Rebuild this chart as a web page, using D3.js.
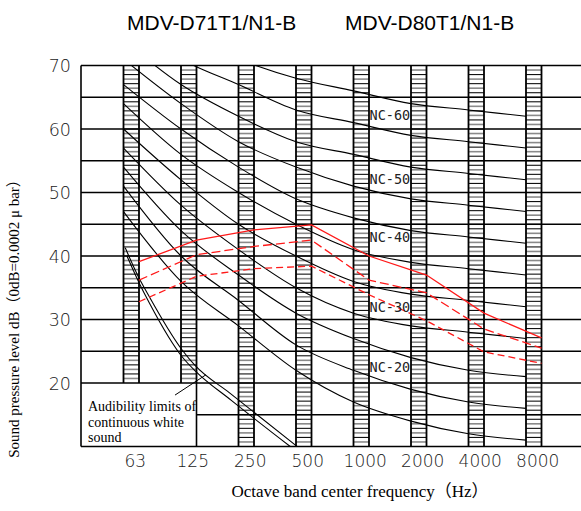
<!DOCTYPE html>
<html><head><meta charset="utf-8">
<script src="https://cdn.jsdelivr.net/npm/d3@7"></script>
<style>body{margin:0;background:#fff}svg{display:block}</style>
</head><body><svg id="c" width="581" height="511"></svg>
<script>
// ---------- data ----------
const bands = ["63","125","250","500","1000","2000","4000","8000"];
const yTicks = [20,30,40,50,60,70];
const gridLevels = [20,25,30,35,40,45,50,55,60,65,70];
const titles = ["MDV-D71T1/N1-B","MDV-D80T1/N1-B"];
const nc15 = [47,36,29,22,17,14,12,11];
const nc20 = [51,40,33,26,22,19,17,16];
const nc25 = [54,44,37,31,27,24,22,21];
const nc30 = [57,48,41,35,31,29,28,27];
const nc35 = [60,52,45,40,36,34,33,32];
const nc40 = [64,56,50,45,41,39,38,37];
const nc45 = [67,60,54,49,46,44,43,42];
const nc50 = [71,64,58,54,51,49,48,47];
const nc55 = [74,67,62,58,56,54,53,52];
const nc60 = [77,71,67,63,61,59,58,57];
const nc65 = [80,75,71,68,66,64,63,62];
const ncCurves = [nc15,nc20,nc25,nc30,nc35,nc40,nc45,nc50,nc55,nc60,nc65];
const ncLabels = ["NC-60","NC-50","NC-40","NC-30","NC-20"];
const ncLabelLevels = [61.4,51.3,42.2,31.2,21.7];
const redSolid = [39.1,42.5,44.1,44.9,40.0,37.0,31.0,27.1];
const redDashA = [36.2,40.2,41.5,42.5,36.2,34.2,28.5,25.5];
const redDashB = [32.8,36.8,38.0,38.4,33.9,29.8,24.9,23.1];
const audPosA = [0.03,0.25,0.43,1.02,1.24,1.85,3.02];
const audDbA  = [41.3,36.9,33.9,25.2,22.8,18.4,10];
const audPosB = [0.06,0.27,0.45,1.04,1.26,1.87,2.9];
const audDbB  = [40.0,35.8,32.6,23.9,21.8,17.3,10];
const audText = ["Audibility limits of","continuous white","sound"];
const yTitle = "Sound pressure level dB（0dB=0.0002 μ bar）";
const xTitle = "Octave band center frequency（Hz）";

// ---------- scales ----------
const svg = d3.select("#c");
const left = 81, right = 581, barW = 15.5;
const x = d3.scaleLinear().domain([0,7]).range([123.5,526]);
const y = d3.scaleLinear().domain([10,70]).range([446.5,65.5]);

svg.append("rect").attr("width",581).attr("height",511).attr("fill","#fff");
svg.append("defs").append("clipPath").attr("id","plot")
  .append("rect").attr("x",left).attr("y",y(70)).attr("width",right-left).attr("height",y(10)-y(70));

// ---------- bars (hatched) ----------
const gBars = svg.append("g");
bands.forEach((b,i)=>{
  const bottom = i<2 ? y(20) : y(10);
  const step = (y(65)-y(70))/7;
  let k=0;
  for(let yy=y(70)+step; yy<bottom-0.5; yy+=step, k++){
    gBars.append("line").attr("x1",x(i)).attr("x2",x(i)+barW).attr("y1",yy).attr("y2",yy)
      .attr("stroke", k%2===0 ? "#8a8a8a" : "#111").attr("stroke-width", k%2===0 ? 1.6 : 1.1);
  }
  [x(i), x(i)+barW].forEach(xx=>{
    gBars.append("line").attr("x1",xx).attr("x2",xx).attr("y1",y(70)).attr("y2",bottom)
      .attr("stroke","#000").attr("stroke-width",1.8);
  });
});

// ---------- grid ----------
const gGrid = svg.append("g").attr("stroke","#000").attr("stroke-width",1.6);
gridLevels.forEach(v=>{
  gGrid.append("line").attr("x1",left).attr("x2",right).attr("y1",y(v)).attr("y2",y(v));
});
gGrid.append("line").attr("x1",x(1)+barW).attr("x2",right).attr("y1",y(15)).attr("y2",y(15));
gGrid.append("line").attr("x1",left).attr("x2",right).attr("y1",y(10)).attr("y2",y(10));
gGrid.append("line").attr("x1",left).attr("x2",left).attr("y1",y(70)).attr("y2",y(10));
gGrid.append("line").attr("x1",x(1)+barW).attr("x2",x(1)+barW).attr("y1",y(20)).attr("y2",y(10));

// ---------- NC curves ----------
const gPlot = svg.append("g").attr("clip-path","url(#plot)");
const ncLine = d3.line().x((d,i)=>x(i)).y(d=>y(d)).curve(d3.curveMonotoneX);
ncCurves.forEach(c=>{
  gPlot.append("path").attr("d",ncLine(c)).attr("fill","none").attr("stroke","#000").attr("stroke-width",1.1);
});

// ---------- audibility limits ----------
const audLine = d3.line().x(d=>x(d[0])).y(d=>y(d[1])).curve(d3.curveMonotoneX);
[[audPosA,audDbA],[audPosB,audDbB]].forEach(([p,v])=>{
  gPlot.append("path").attr("d",audLine(p.map((q,i)=>[q,v[i]])))
    .attr("fill","none").attr("stroke","#000").attr("stroke-width",1.1);
});
svg.append("line").attr("x1",x(0.896)).attr("y1",y(18.1)).attr("x2",x(1.435)).attr("y2",y(21.3))
  .attr("stroke","#000").attr("stroke-width",1);

// ---------- red curves ----------
const redLine = d3.line().x((d,i)=>x(i)+barW).y(d=>y(d));
[[redSolid,null],[redDashA,"9,4"],[redDashB,"7,4"]].forEach(([s,dash])=>{
  const p = gPlot.append("path").attr("d",redLine(s)).attr("fill","none")
    .attr("stroke","#ff1a1a").attr("stroke-width",1.3);
  if(dash) p.attr("stroke-dasharray",dash);
});

// ---------- NC labels ----------
ncLabels.forEach((t,i)=>{
  svg.append("text").attr("x",x(4)+16).attr("y",y(ncLabelLevels[i]))
    .attr("font-family","DejaVu Sans Mono").attr("font-size",13.5).attr("fill","#222").text(t);
});

// ---------- texts ----------
svg.append("g").selectAll("text").data(audText).join("text")
  .attr("x",88).attr("y",(d,i)=>411+i*15.5)
  .attr("font-family","Liberation Serif, serif").attr("font-size",14).attr("fill","#000").text(d=>d);

svg.append("g").selectAll("text").data(yTicks).join("text")
  .attr("x",71).attr("y",d=>y(d)+6.5).attr("text-anchor","end")
  .attr("font-family","DejaVu Sans").attr("font-weight",200).attr("font-size",17.5).attr("fill","#1a1a1a").text(d=>d);

svg.append("g").selectAll("text").data(bands).join("text")
  .attr("x",(d,i)=>x(i)+barW/2+4).attr("y",467).attr("text-anchor","middle")
  .attr("font-family","DejaVu Sans").attr("font-weight",200).attr("font-size",17).attr("fill","#1a1a1a").text(d=>d);

svg.append("g").selectAll("text").data(titles).join("text")
  .attr("x",(d,i)=>[127,345][i]).attr("y",29.5)
  .attr("font-family","Liberation Sans, Arial").attr("font-size",21).attr("fill","#000").text(d=>d);

svg.append("text").attr("transform","translate(19,315) rotate(-90)").attr("text-anchor","middle")
  .attr("font-family","Liberation Serif, 'Noto Sans CJK SC', serif").attr("font-size",15).attr("fill","#000").text(yTitle);

svg.append("text").attr("x",360).attr("y",497).attr("text-anchor","middle")
  .attr("font-family","Liberation Serif, 'Noto Sans CJK SC', serif").attr("font-size",17).attr("fill","#000").text(xTitle);
</script></body></html>
